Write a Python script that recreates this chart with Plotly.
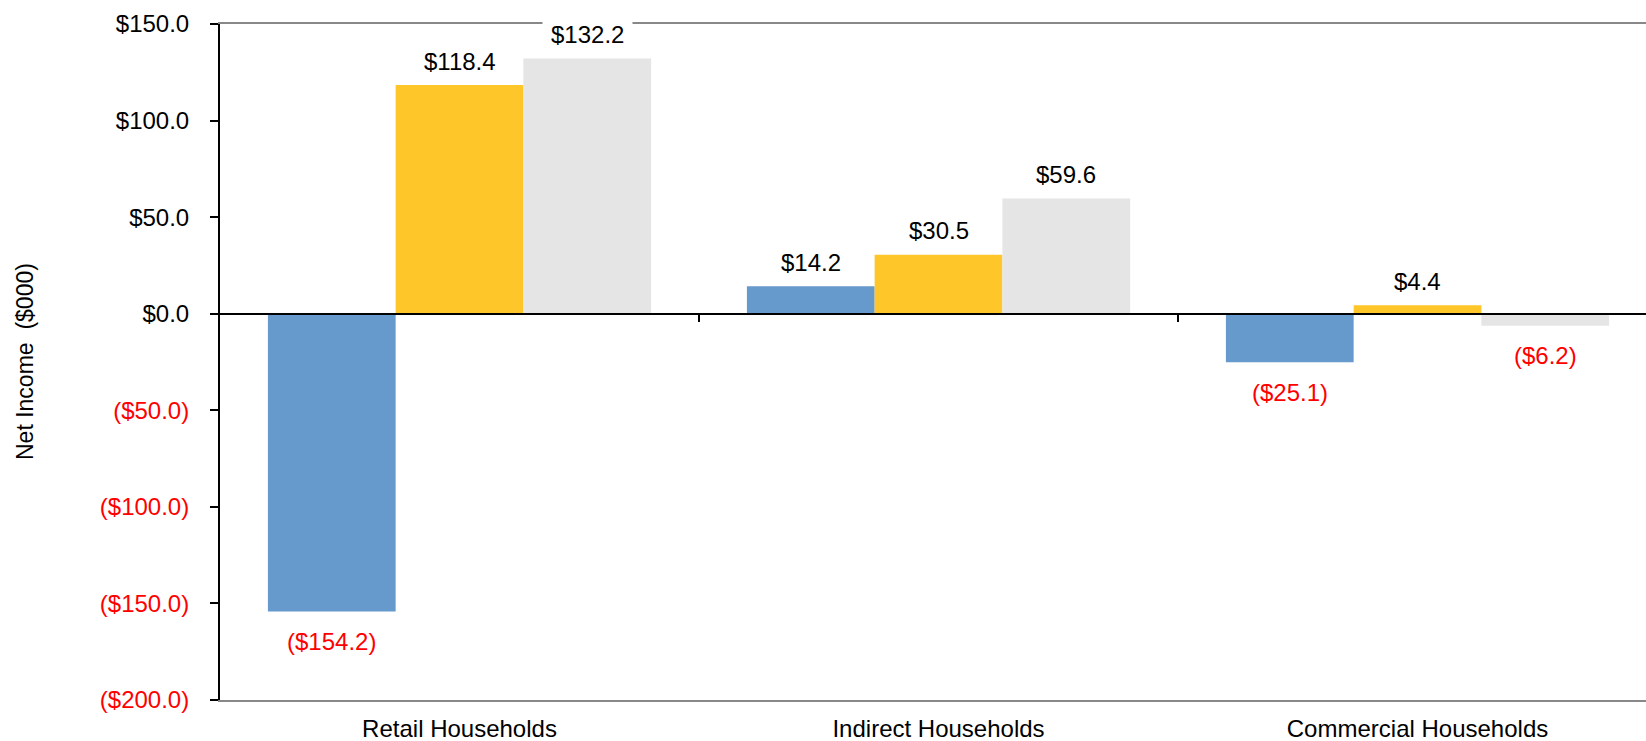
import plotly.graph_objects as go

# Net income by household segment, three series per segment ($000)
categories = ["Retail Households", "Indirect Households", "Commercial Households"]
series_names = ["Series 1", "Series 2", "Series 3"]
series_values = [
    [-154.2, 14.2, -25.1],
    [118.4, 30.5, 4.4],
    [132.2, 59.6, -6.2],
]
series_colors = ["#6699CC", "#FFC629", "#E5E5E5"]

y_tick_values = [150, 100, 50, 0, -50, -100, -150, -200]
y_tick_labels = ["$150.0", "$100.0", "$50.0", "$0.0",
                 "($50.0)", "($100.0)", "($150.0)", "($200.0)"]

FONT = "Liberation Sans, Arial, sans-serif"
FS = 24
RED = "#FF0000"
BAR_GAP = 0.2
Y_RANGE = [-200, 150]
X_RANGE = [-0.5, 2.477]


def money(v):
    return f"${v:.1f}" if v >= 0 else f"(${abs(v):.1f})"


fig = go.Figure()
for name, vals, color in zip(series_names, series_values, series_colors):
    fig.add_trace(go.Bar(
        x=categories, y=vals, name=name,
        marker=dict(color=color, line=dict(width=0)),
        showlegend=False,
    ))

# empty trace so the zero-line axis (category boundary ticks) is rendered
fig.add_trace(go.Scatter(x=[], y=[], xaxis="x2", yaxis="y", showlegend=False))

# value labels above / below each bar
n = len(series_values)
step = (1 - BAR_GAP) / n
annotations = []
for i, vals in enumerate(series_values):
    for k, v in enumerate(vals):
        annotations.append(dict(
            x=k + (i - (n - 1) / 2) * step, y=v, xref="x", yref="y",
            text=money(v), showarrow=False,
            xanchor="center", yanchor="middle",
            yshift=24 if v >= 0 else -30,
            font=dict(family=FONT, size=FS, color="#000000" if v >= 0 else RED),
            bgcolor="#FFFFFF", borderpad=8,
        ))

annotations.append(dict(
    x=0, y=0.5, xref="paper", yref="paper", xshift=-195,
    text="Net Income\u00a0\u00a0($000)", textangle=-90, showarrow=False,
    xanchor="center", yanchor="middle",
    font=dict(family=FONT, size=23, color="#000000"),
))

tick_text = [
    t if v >= 0 else f'<span style="color:{RED}">{t}</span>'
    for v, t in zip(y_tick_values, y_tick_labels)
]

fig.update_layout(
    width=1646, height=741,
    margin=dict(l=220, r=0, t=24, b=41, autoexpand=False),
    paper_bgcolor="#FFFFFF", plot_bgcolor="#FFFFFF",
    barmode="group", bargap=BAR_GAP, bargroupgap=0,
    font=dict(family=FONT, size=FS, color="#000000"),
    xaxis=dict(
        type="category", range=X_RANGE,
        showline=True, linecolor="#888888", linewidth=2, mirror=True,
        ticks="", showgrid=False, zeroline=False,
        tickfont=dict(family=FONT, size=FS, color="#000000"),
        ticklabelstandoff=6,
    ),
    xaxis2=dict(
        overlaying="x", anchor="free",
        position=(0 - Y_RANGE[0]) / (Y_RANGE[1] - Y_RANGE[0]),
        range=X_RANGE, type="linear",
        showline=True, linecolor="#000000", linewidth=2,
        ticks="outside", ticklen=7, tickwidth=2, tickcolor="#000000",
        tickvals=[0.5, 1.5], showticklabels=False,
        showgrid=False, zeroline=False,
    ),
    yaxis=dict(
        range=Y_RANGE, tickvals=y_tick_values, ticktext=tick_text,
        showline=True, linecolor="#000000", linewidth=2,
        ticks="outside", ticklen=8, tickwidth=2, tickcolor="#000000",
        showgrid=False, zeroline=False,
        tickfont=dict(family=FONT, size=FS, color="#000000"),
        ticklabelstandoff=16,
    ),
    annotations=annotations,
)

fig.write_html("out.html")
